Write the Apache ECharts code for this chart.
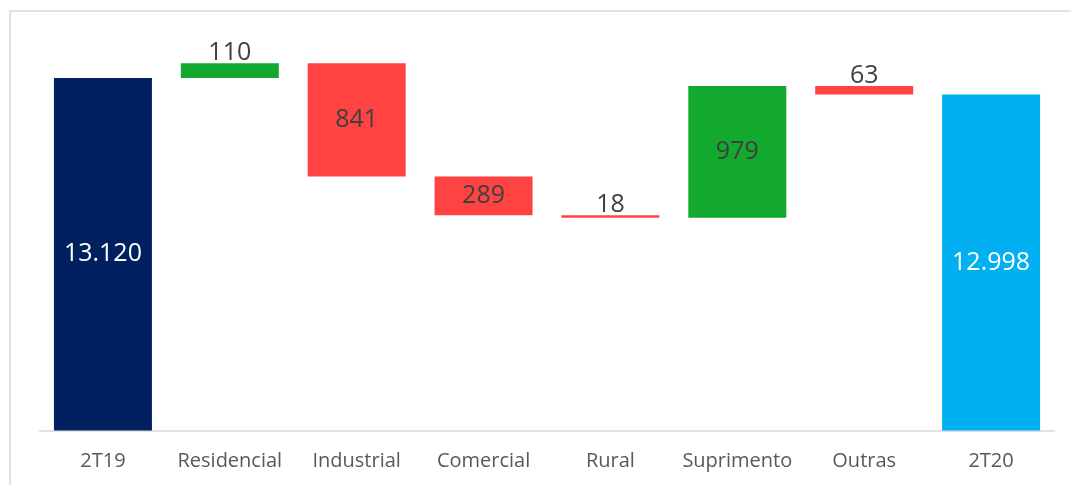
<!DOCTYPE html>
<html>
<head>
<meta charset="utf-8">
<script src="https://cdn.jsdelivr.net/npm/echarts@6/dist/echarts.min.js"></script>
<style>
html,body{margin:0;padding:0;background:#fff;}
#chart{width:1071px;height:485px;}
</style>
</head>
<body>
<div id="chart"></div>
<script>
const categories = ['2T19', 'Residencial', 'Industrial', 'Comercial', 'Rural', 'Suprimento', 'Outras', '2T20'];
const startValue = 13120;
const changes = [110, -841, -289, -18, 979, -63];
const endValue = 12998;
const axisMin = 10500;
const axisMax = 13500;

function fmt(v) {
  return String(Math.abs(v)).replace(/\B(?=(\d{3})+(?!\d))/g, '.');
}

const COLORS = { start: '#002060', end: '#00B0F0', up: '#13A92F', down: '#FF4343' };

const baseData = [];
const visData = [];
baseData.push(0);
visData.push({ value: startValue, itemStyle: { color: COLORS.start },
  label: { position: 'inside', color: '#ffffff' } });
let running = startValue;
changes.forEach(function (c) {
  const next = running + c;
  baseData.push(Math.min(running, next));
  const small = Math.abs(c) < 200;
  visData.push({
    value: Math.abs(c),
    itemStyle: { color: c >= 0 ? COLORS.up : COLORS.down },
    label: { position: small ? 'top' : 'inside', color: '#404040', distance: -2 }
  });
  running = next;
});
baseData.push(0);
visData.push({ value: endValue, itemStyle: { color: COLORS.end },
  label: { position: 'inside', color: '#ffffff' } });

const chart = echarts.init(document.getElementById('chart'), null, { renderer: 'canvas' });
chart.setOption({
  animation: false,
  backgroundColor: '#ffffff',
  graphic: [{
    type: 'rect',
    shape: { x: 10, y: 11, width: 1200, height: 600 },
    style: { fill: 'none', stroke: '#D9D9D9', lineWidth: 1.5 },
    silent: true, z: -1
  }],
  grid: { left: 39.5, right: 16.5, top: 27, bottom: 54.5, containLabel: false },
  xAxis: {
    type: 'category',
    data: categories,
    axisLine: { show: true, lineStyle: { color: '#D9D9D9', width: 1.5 } },
    axisTick: { show: false },
    axisLabel: { color: '#595959', fontFamily: 'Open Sans', fontSize: 20, margin: 21, interval: 0 }
  },
  yAxis: {
    type: 'value', min: axisMin, max: axisMax, show: false,
    splitLine: { show: false }
  },
  series: [{
    type: 'bar', stack: 'w', data: baseData, barWidth: 98,
    itemStyle: { color: 'transparent' }, silent: true
  }, {
    type: 'bar', stack: 'w', data: visData, barWidth: 98,
    label: {
      show: true, fontFamily: 'Open Sans', fontSize: 25,
      formatter: function (p) { return fmt(p.value); }
    }
  }]
});
</script>
</body>
</html>
